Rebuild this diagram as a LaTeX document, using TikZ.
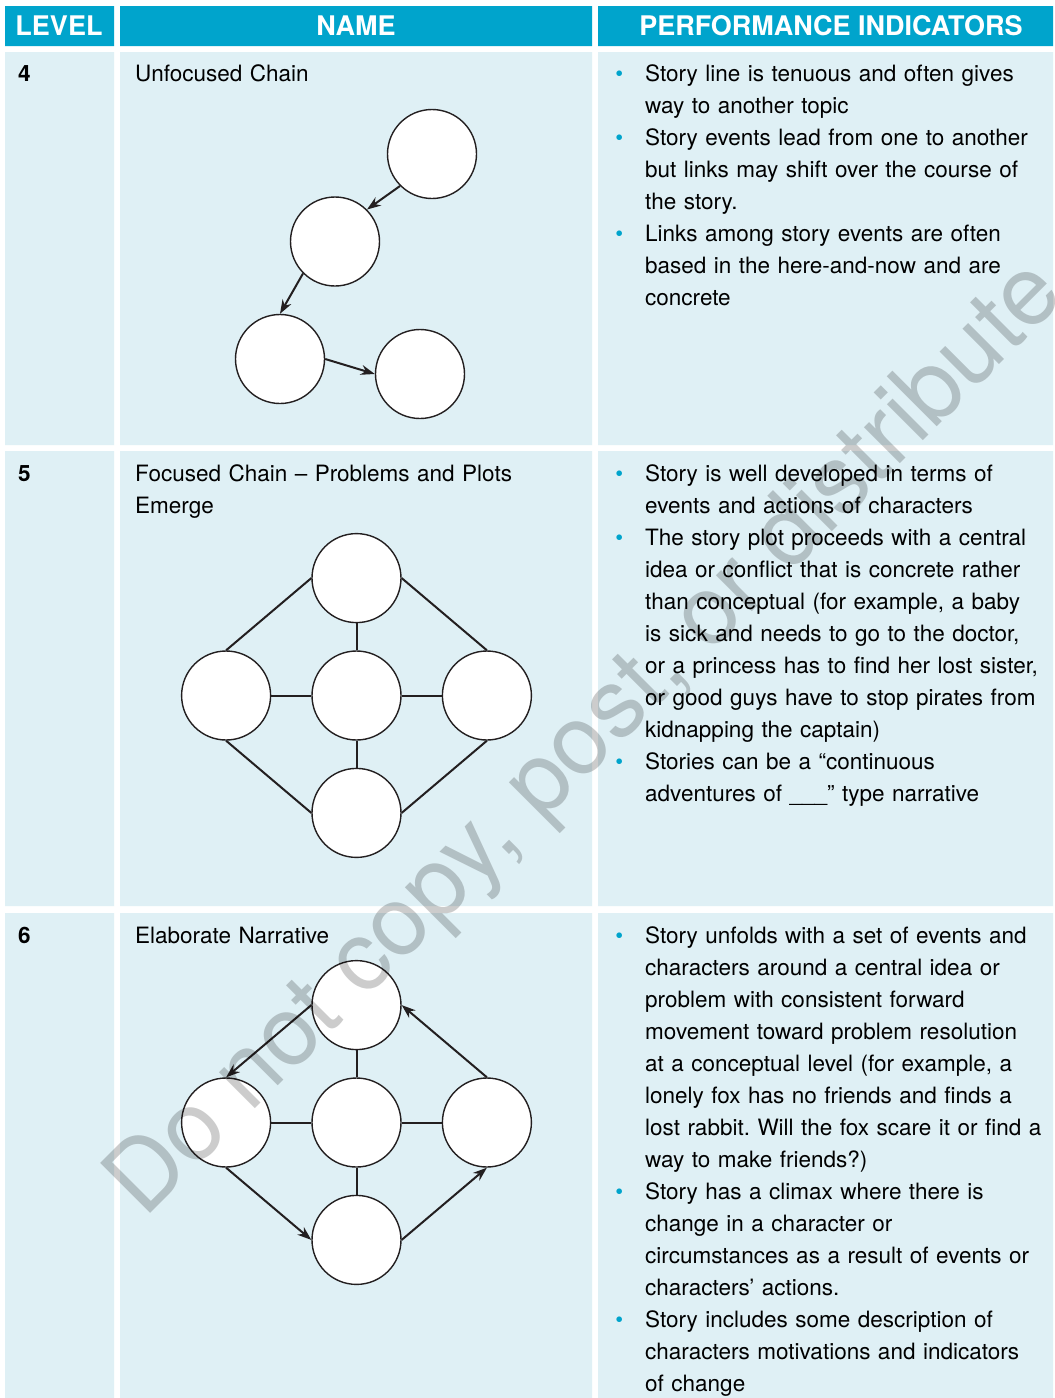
\documentclass[tikz,border=0pt]{standalone}
\usepackage{fontspec}
\setmainfont{TeX Gyre Heros}
\usetikzlibrary{arrows.meta,positioning}
\definecolor{hdrblue}{RGB}{0,164,204}
\definecolor{cellblue}{RGB}{223,240,245}
\definecolor{ink}{RGB}{35,31,32}
\newcommand{\bul}{\leavevmode\llap{\textcolor{hdrblue}{\textbullet}\hspace{22pt}}}

\begin{document}
\begin{tikzpicture}[
x=1pt,y=-1pt,
hdr/.style={fill=hdrblue},
cell/.style={fill=cellblue},
hdrtxt/.style={text=white,font=\fontsize{27}{30}\selectfont\bfseries,anchor=base,inner sep=0pt},
lvl/.style={font=\fontsize{22.5}{32}\selectfont\bfseries,anchor=base west,inner sep=0pt},
txt/.style={font=\fontsize{22.5}{32}\selectfont\frenchspacing,anchor=base west,inner sep=0pt,text width=440pt,align=left},
ev/.style={circle,draw=ink,fill=white,line width=1.4pt,minimum size=89pt,inner sep=0pt},
link/.style={draw=ink,line width=2pt},
arr/.style={draw=ink,line width=2pt,-{Stealth[length=14pt,width=10pt]}},
wm/.style={text=black,text opacity=0.2,font=\fontsize{97}{100}\selectfont,inner sep=0pt},
]
\fill[white] (0,0) rectangle (1055,1398);
\useasboundingbox (0,0) rectangle (1055,1398);
\path[hdr]
    (5,6) rectangle (114,46)
    (120,6) rectangle (592,46)
    (598,6) rectangle (1053,46);
\foreach \t/\b in {52/445,451/906,913/1398}
    \path[cell] (5,\t) rectangle (114,\b)
        (120,\t) rectangle (592,\b)
        (598,\t) rectangle (1053,\b);

\node[hdrtxt] (hlevel) at (59,35) {LEVEL};
\node[hdrtxt] (hname) at (356,35) {NAME};
\node[hdrtxt] (hperf) at (831,35) {PERFORMANCE INDICATORS};

\node[lvl] (lev4) at (18,81) {4};
\node[txt] (name4) at (135,81) {Unfocused Chain};
\node[txt] (perf4) at (645,81) {\bul Story line is tenuous and often gives\\
way to another topic\\
\bul Story events lead from one to another\\
but links may shift over the course of\\
the story.\\
\bul Links among story events are often\\
based in the here-and-now and are\\
concrete};

\node[ev] (a4) at (432,154) {};
\node[ev] (b4) at (335,241.5) {};
\node[ev] (c4) at (280,359) {};
\node[ev] (d4) at (420,374) {};
\draw[arr] (a4.225) -- (b4.45);
\draw[arr] (b4.225) -- (c4.north);
\draw[arr] (c4.east) -- (d4.west);

\node[lvl] (lev5) at (18,481) {5};
\node[txt] (name5) at (135,481) {Focused Chain -- Problems and Plots\\Emerge};
\node[txt] (perf5) at (645,481) {\bul Story is well developed in terms of\\
events and actions of characters\\
\bul The story plot proceeds with a central\\
idea or conflict that is concrete rather\\
than conceptual (for example, a baby\\
is sick and needs to go to the doctor,\\
or a princess has to find her lost sister,\\
or good guys have to stop pirates from\\
kidnapping the captain)\\
\bul Stories can be a “continuous\\
adventures of \_\_\_” type narrative};

\node[ev] (m5) at (356.5,695.5) {};
\node[ev,above=27pt of m5] (t5) {};
\node[ev,below=27pt of m5] (u5) {};
\node[ev,left=40pt of m5] (w5) {};
\node[ev,right=40pt of m5] (e5) {};
\draw[link] (t5.west) -- (w5.north);
\draw[link] (t5.east) -- (e5.north);
\draw[link] (w5.south) -- (u5.west);
\draw[link] (e5.south) -- (u5.east);
\draw[link] (t5) -- (m5);
\draw[link] (m5) -- (u5);
\draw[link] (w5) -- (m5);
\draw[link] (m5) -- (e5);

\node[lvl] (lev6) at (18,943) {6};
\node[txt] (name6) at (135,943) {Elaborate Narrative};
\node[txt] (perf6) at (645,943) {\bul Story unfolds with a set of events and\\
characters around a central idea or\\
problem with consistent forward\\
movement toward problem resolution\\
at a conceptual level (for example, a\\
lonely fox has no friends and finds a\\
lost rabbit. Will the fox scare it or find a\\
way to make friends?)\\
\bul Story has a climax where there is\\
change in a character or\\
circumstances as a result of events or\\
characters’ actions.\\
\bul Story includes some description of\\
characters motivations and indicators\\
of change};

\node[ev] (m6) at (356.5,1122.5) {};
\node[ev,above=27pt of m6] (t6) {};
\node[ev,below=27pt of m6] (u6) {};
\node[ev,left=40pt of m6] (w6) {};
\node[ev,right=40pt of m6] (e6) {};
\draw[arr] (t6.west) -- (w6.north);
\draw[arr] (w6.south) -- (u6.west);
\draw[arr] (u6.east) -- (e6.south);
\draw[arr] (e6.north) -- (t6.east);
\draw[link] (t6) -- (m6);
\draw[link] (m6) -- (u6);
\draw[link] (w6) -- (m6);
\draw[link] (m6) -- (e6);

\node[wm,rotate=45,anchor=base west] (wmark) at (144,1220) {Do not copy, post, or distribute};
\end{tikzpicture}
\end{document}
